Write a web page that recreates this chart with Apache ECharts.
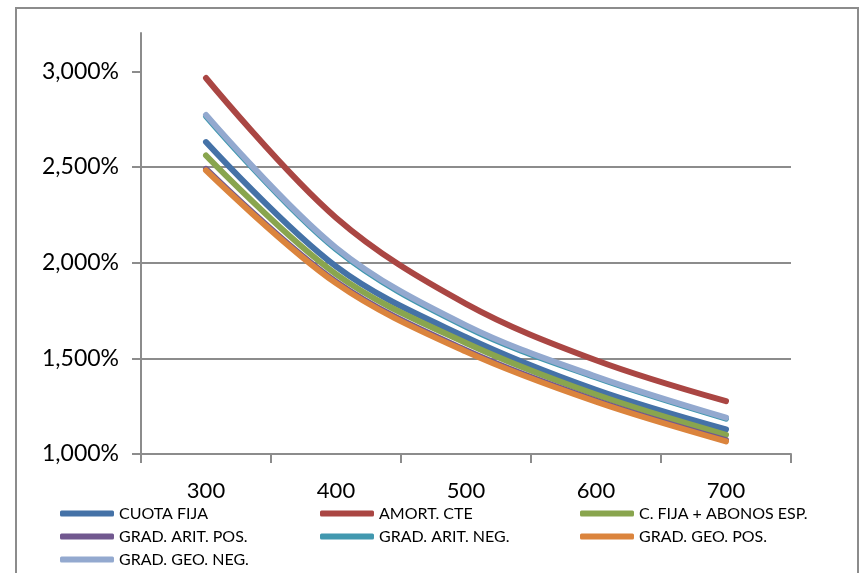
<!DOCTYPE html>
<html>
<head>
<meta charset="utf-8">
<script src="https://cdn.jsdelivr.net/npm/echarts@6/dist/echarts.min.js"></script>
<style>
html,body{margin:0;padding:0;background:#fff;}
#chart{width:863px;height:573px;position:absolute;left:0;top:0;}
#frame{position:absolute;left:15px;top:7px;width:840px;height:580px;border:2px solid #8c8c8c;pointer-events:none;}
</style>
</head>
<body>
<div id="chart"></div>
<div id="frame"></div>
<script>
const categories = ['300', '400', '500', '600', '700'];
const seriesNames = ['CUOTA FIJA', 'AMORT. CTE', 'C. FIJA + ABONOS ESP.', 'GRAD. ARIT. POS.', 'GRAD. ARIT. NEG.', 'GRAD. GEO. POS.', 'GRAD. GEO. NEG.'];
const cuotaFija   = [2.630, 1.980, 1.610, 1.335, 1.128];
const amortCte    = [2.965, 2.235, 1.785, 1.490, 1.276];
const cFijaAbonos = [2.560, 1.940, 1.580, 1.310, 1.100];
const gradAritPos = [2.490, 1.900, 1.542, 1.279, 1.072];
const gradAritNeg = [2.765, 2.070, 1.665, 1.400, 1.185];
const gradGeoPos  = [2.482, 1.893, 1.535, 1.273, 1.066];
const gradGeoNeg  = [2.772, 2.078, 1.672, 1.405, 1.190];
const yTicks = [1.0, 1.5, 2.0, 2.5, 3.0];
const colors = ['#4572A7', '#AA4643', '#89A54E', '#71588F', '#4198AF', '#DB843D', '#93A9CF'];
const seriesData = [cuotaFija, amortCte, cFijaAbonos, gradAritPos, gradAritNeg, gradGeoPos, gradGeoNeg];

const chart = echarts.init(document.getElementById('chart'));
const font = 'Lato, "Open Sans", sans-serif';
chart.setOption({
  animation: false,
  color: colors,
  grid: { left: 141, right: 72, top: 33, bottom: 119, containLabel: false },
  xAxis: {
    type: 'category',
    data: categories,
    boundaryGap: true,
    axisLine: { lineStyle: { color: '#8c8c8c', width: 2 } },
    axisTick: { show: true, length: 9, lineStyle: { color: '#8c8c8c', width: 2 } },
    axisLabel: { color: '#000', fontSize: 22, fontFamily: font, margin: 26 },
    splitLine: { show: false }
  },
  yAxis: {
    type: 'value',
    min: 1.0,
    max: 3.2,
    interval: 0.5,
    axisLine: { show: true, lineStyle: { color: '#8c8c8c', width: 2 } },
    axisTick: { show: true, length: 9, customValues: yTicks, lineStyle: { color: '#8c8c8c', width: 2 } },
    axisLabel: {
      color: '#000', fontSize: 23, fontFamily: font, margin: 22,
      customValues: yTicks,
      formatter: v => v.toFixed(3).replace('.', ',') + '%'
    },
    splitLine: { show: true, showMinLine: false, showMaxLine: false, lineStyle: { color: '#8c8c8c', width: 2 } }
  },
  legend: {
    left: 55,
    top: 497,
    width: 800,
    orient: 'horizontal',
    itemGap: 0,
    itemWidth: 54,
    itemHeight: 6,
    icon: 'roundRect',
    textStyle: { color: '#000', fontSize: 16, fontFamily: font, width: 201, lineHeight: 23 },
    data: seriesNames
  },
  series: seriesNames.map((name, i) => ({
    name: name,
    type: 'line',
    data: seriesData[i],
    smooth: 0.35,
    symbol: 'none',
    lineStyle: { width: 6, cap: 'round', join: 'round', color: colors[i] },
    itemStyle: { color: colors[i] }
  }))
});
</script>
</body>
</html>
